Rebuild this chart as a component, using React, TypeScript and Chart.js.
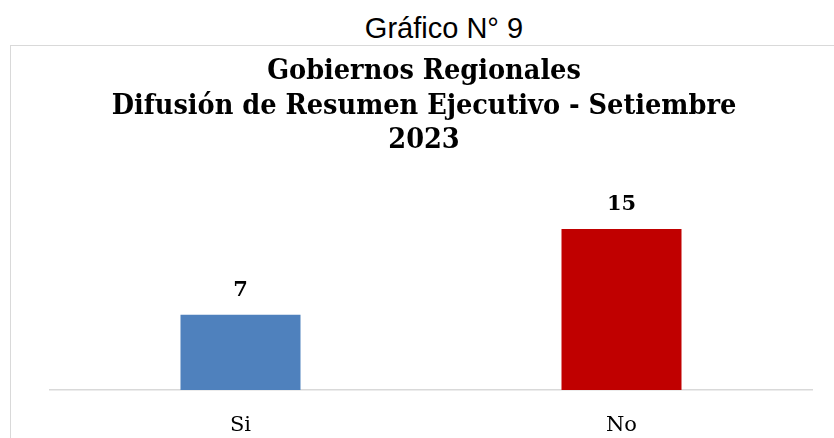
import React, { useEffect, useRef } from "react";
import { Chart, registerables } from "chart.js";

Chart.register(...registerables);

const categories = ["Si", "No"];
const values = [7, 15];
const barColors = ["#4F81BD", "#C00000"];
const heading = "Gráfico N° 9";
const titleLines = ["Gobiernos Regionales", "Difusión de Resumen Ejecutivo - Setiembre", "2023"];

const valueLabels = {
  id: "valueLabels",
  afterDatasetsDraw(chart: any) {
    const ctx = chart.ctx;
    const meta = chart.getDatasetMeta(0);
    ctx.save();
    ctx.font = "bold 21px 'DejaVu Serif'";
    ctx.fillStyle = "#000";
    ctx.textAlign = "center";
    ctx.textBaseline = "middle";
    meta.data.forEach((bar: any, i: number) => {
      ctx.fillText(String(values[i]), bar.x, bar.y - 24);
    });
    ctx.restore();
  },
};

export default function App() {
  const ref = useRef<HTMLCanvasElement>(null);
  useEffect(() => {
    if (!ref.current) return;
    const chart = new Chart(ref.current, {
      type: "bar",
      data: {
        labels: categories,
        datasets: [
          {
            data: values,
            backgroundColor: barColors,
            borderWidth: 0,
            categoryPercentage: 1,
            barPercentage: 0.315,
          },
        ],
      },
      options: {
        animation: false,
        responsive: false,
        maintainAspectRatio: false,
        layout: { padding: { left: 36, right: 22, top: 46, bottom: 0 } },
        plugins: {
          legend: { display: false },
          tooltip: { enabled: false },
          title: {
            display: true,
            text: titleLines,
            color: "#000",
            font: { family: "'DejaVu Serif Condensed', 'DejaVu Serif'", size: 28.5, weight: "bold", lineHeight: 1.22 },
            padding: { top: 8, bottom: 17 },
          },
        },
        scales: {
          x: {
            grid: { display: false, drawTicks: false },
            border: { display: true, color: "#d9d9d9", width: 1.5 },
            ticks: {
              color: "#000",
              padding: 23,
              font: { family: "'DejaVu Serif'", size: 21, lineHeight: 1.2 },
            },
            afterFit: (s: any) => {
              s.height = 48;
            },
          },
          y: {
            min: 0,
            max: 20,
            display: true,
            grid: { display: false, drawTicks: false },
            border: { display: false },
            ticks: { display: false },
            afterFit: (s: any) => {
              s.width = 14;
            },
          },
        },
      },
      plugins: [valueLabels],
    });
    return () => chart.destroy();
  }, []);

  return (
    <div style={{ position: "fixed", left: 0, top: 0, width: 834, height: 438, overflow: "hidden", background: "#fff" }}>
      <div
        style={{
          position: "absolute",
          left: 0,
          width: 888,
          top: 11,
          textAlign: "center",
          fontFamily: "'Liberation Sans', Arial, sans-serif",
          fontSize: 29,
          lineHeight: "34px",
          color: "#000",
        }}
      >
        {heading}
      </div>
      <div
        style={{
          position: "absolute",
          left: 10,
          top: 45,
          width: 900,
          height: 500,
          border: "1px solid #d9d9d9",
        }}
      />
      <canvas ref={ref} width={834} height={438} style={{ position: "absolute", left: 0, top: 0 }} />
    </div>
  );
}
